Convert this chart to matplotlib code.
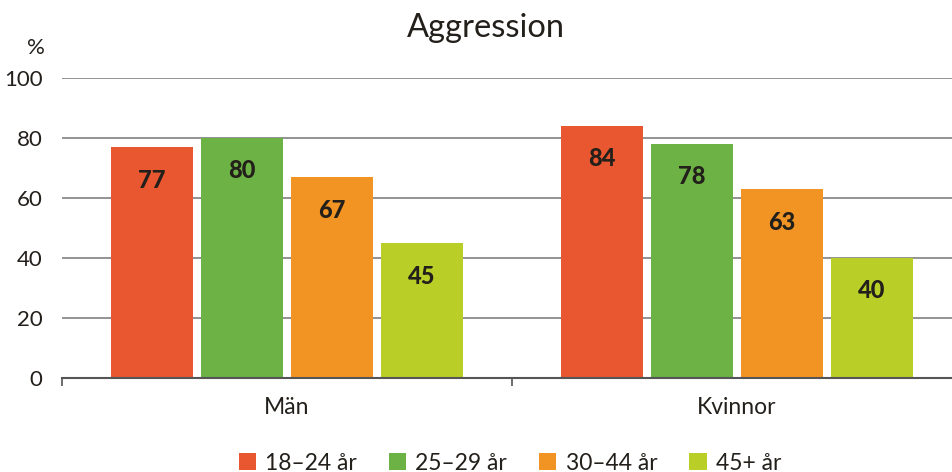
import numpy as np
import matplotlib.pyplot as plt
from matplotlib.patches import Patch

plt.rcParams['font.family'] = ['Lato', 'DejaVu Sans']

groups = ['Män', 'Kvinnor']
ages = ['18–24 år', '25–29 år', '30–44 år', '45+ år']
values = [
    [77, 84],
    [80, 78],
    [67, 63],
    [45, 40],
]
colors = ['#E8572F', '#6CB245', '#F29423', '#B9CF27']
text_col = '#231F1A'

fig = plt.figure(figsize=(9.53, 4.72), dpi=100)
# axes run past the right edge, like the reference
ax = fig.add_axes([62 / 953, (472 - 378) / 472, 900 / 953, 300 / 472])

x = np.arange(len(groups))
offsets = [-0.3, -0.1, 0.1, 0.3]
for vals, off, col in zip(values, offsets, colors):
    bars = ax.bar(x + off, vals, width=0.182, color=col, zorder=3)
    for b, v in zip(bars, vals):
        ax.text(b.get_x() + b.get_width() / 2, v - 11, str(v), ha='center', va='center',
                fontsize=17, fontweight='black', color=text_col, zorder=4)

ax.set_xlim(-0.5, 1.5)
ax.set_ylim(0, 100)
ax.set_yticks(range(0, 101, 20))
ax.set_yticklabels([str(t) for t in range(0, 101, 20)], fontsize=16, color=text_col)
ax.yaxis.grid(True, color='#8a8a8a', linewidth=1.3, zorder=0)
ax.tick_params(axis='y', length=0, pad=14)

ax.set_xticks([-0.5, 0.5, 1.5])
ax.set_xticklabels([])
ax.set_xticks(x, minor=True)
ax.set_xticklabels(groups, minor=True, fontsize=16.5, color=text_col)
ax.tick_params(axis='x', which='major', length=6, width=1.2, color='#555555')
ax.tick_params(axis='x', which='minor', length=0, pad=14)

for s in ['top', 'right', 'left']:
    ax.spines[s].set_visible(False)
ax.spines['bottom'].set_color('#555555')
ax.spines['bottom'].set_linewidth(1.5)
ax.spines['bottom'].set_zorder(5)

fig.text(36 / 953, 1 - 48 / 472, '%', fontsize=16, color=text_col, ha='center', va='center')
fig.text(486 / 953, 1 - 28 / 472, 'Aggression', fontsize=23.5, color=text_col,
         ha='center', va='center')

handles = [Patch(facecolor=c, edgecolor='none') for c in colors]
fig.legend(handles, ages, loc='center', bbox_to_anchor=(510 / 953, 1 - 463 / 472), ncol=4,
           frameon=False, fontsize=16.5, handlelength=0.75, handleheight=0.75,
           handletextpad=0.4, columnspacing=1.4, labelcolor=text_col)

fig.savefig('out.png', dpi=100)
